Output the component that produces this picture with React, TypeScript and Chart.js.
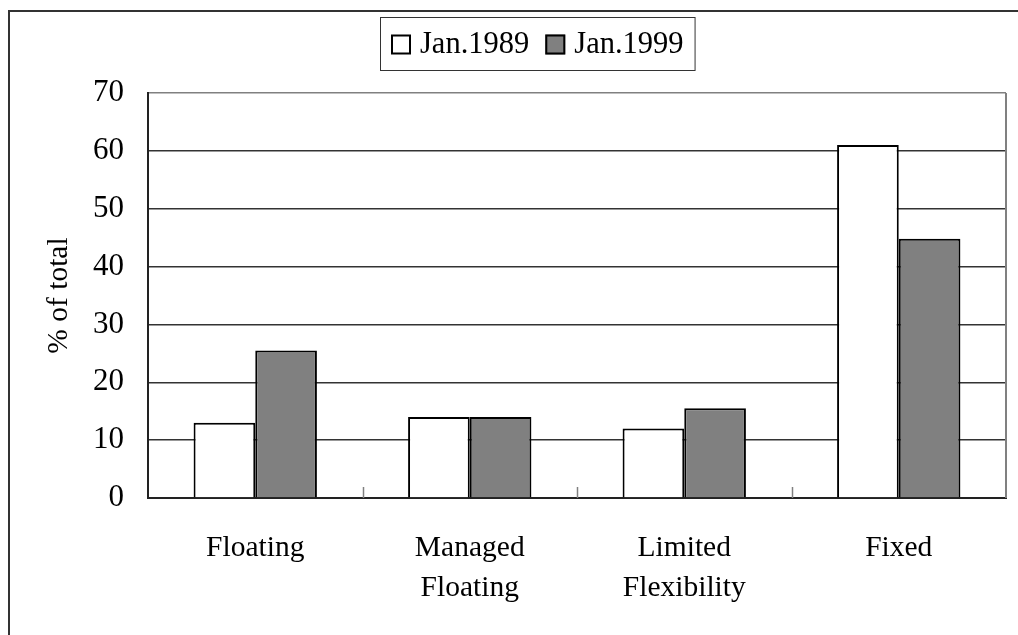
import React, { useEffect, useRef } from "react";
import { Chart, registerables } from "chart.js";

Chart.register(...registerables);

const categories: string[][] = [["Floating"], ["Managed", "Floating"], ["Limited", "Flexibility"], ["Fixed"]];
const seriesNames = ["Jan.1989", "Jan.1999"];
const jan1989 = [13, 14, 12, 61];
const jan1999 = [25.5, 14, 15.5, 44.8];
const seriesColors = ["#ffffff", "#808080"];
const yMin = 0;
const yMax = 70;
const yStep = 10;
const yTitle = "% of total";

const FONT = "'Liberation Serif', 'Times New Roman', serif";

const decorPlugin = {
  id: "decor",
  afterDraw(chart: any) {
    const ctx = chart.ctx as CanvasRenderingContext2D;
    const { right, top, bottom } = chart.chartArea;
    ctx.save();
    // right border of plot
    ctx.strokeStyle = "#808080";
    ctx.lineWidth = 2;
    ctx.beginPath();
    ctx.moveTo(right, top);
    ctx.lineTo(right, bottom);
    ctx.stroke();
    // category boundary ticks (inward)
    const xs = chart.scales.x;
    const n = chart.data.labels.length;
    const w = (xs.right - xs.left) / n;
    ctx.lineWidth = 1.5;
    ctx.strokeStyle = "#808080";
    for (let i = 1; i < n; i++) {
      const bx = Math.round(xs.left + w * i) + 0.5;
      ctx.beginPath();
      ctx.moveTo(bx, bottom);
      ctx.lineTo(bx, bottom - 11);
      ctx.stroke();
    }
    // outer frame
    ctx.strokeStyle = "#333";
    ctx.lineWidth = 2;
    ctx.strokeRect(9, 11, 1200, 1000);
    // legend
    ctx.font = `30.5px ${FONT}`;
    const items = chart.data.datasets.map((d: any) => ({ label: d.label, fill: d.backgroundColor }));
    const sq = 20, gapText = 9, gapItem = 16, padX = 11;
    const widths = items.map((it: any) => ctx.measureText(it.label).width);
    let total = padX * 2 + gapItem * (items.length - 1);
    items.forEach((_: any, i: number) => { total += sq + gapText + widths[i]; });
    const cx = 537;
    const boxTop = 17, boxH = 53;
    const x0 = Math.round(cx - total / 2);
    ctx.strokeStyle = "#333";
    ctx.lineWidth = 1;
    ctx.strokeRect(x0 + 0.5, boxTop + 0.5, total, boxH);
    let x = x0 + padX;
    const cy = boxTop + boxH / 2 + 1;
    ctx.textBaseline = "middle";
    ctx.textAlign = "left";
    items.forEach((it: any, i: number) => {
      ctx.fillStyle = it.fill;
      ctx.fillRect(x, cy - sq / 2, sq, sq);
      ctx.strokeStyle = "#000";
      ctx.lineWidth = 2;
      ctx.strokeRect(x + 1, cy - sq / 2 + 1, sq - 2, sq - 2);
      ctx.fillStyle = "#000";
      ctx.fillText(it.label, x + sq + gapText, cy);
      x += sq + gapText + widths[i] + gapItem;
    });
    ctx.restore();
  },
};

export default function App() {
  const ref = useRef<HTMLCanvasElement>(null);
  useEffect(() => {
    if (!ref.current) return;
    const chart = new Chart(ref.current, {
      type: "bar",
      data: {
        labels: categories,
        datasets: [
          { label: seriesNames[0], data: jan1989, backgroundColor: seriesColors[0], borderColor: "#000", borderWidth: 2 },
          { label: seriesNames[1], data: jan1999, backgroundColor: seriesColors[1], borderColor: "#000", borderWidth: 2 },
        ],
      },
      options: {
        responsive: false,
        animation: false,
        datasets: { bar: { barPercentage: 1, categoryPercentage: 0.575 } },
        layout: { padding: { top: 93, right: 12, left: 0, bottom: 0 } },
        plugins: { legend: { display: false }, tooltip: { enabled: false } },
        scales: {
          x: {
            grid: { display: false, drawTicks: false },
            border: { display: true, color: "#222", width: 2 },
            ticks: { font: { family: FONT, size: 29.5, lineHeight: 1.36 }, color: "#000", padding: 30, maxRotation: 0, autoSkip: false },
            afterFit: (s: any) => { s.height = 137; },
          },
          y: {
            min: yMin,
            max: yMax,
            ticks: { stepSize: yStep, font: { family: FONT, size: 31 }, color: "#000", padding: 24 },
            grid: {
              color: (c: any) => (c.tick && c.tick.value === yMax ? "#808080" : "#333"),
              lineWidth: 1.5,
              drawTicks: false,
            },
            border: { color: "#222", width: 2 },
            title: { display: true, text: yTitle, font: { family: FONT, size: 29.5 }, color: "#000", padding: { top: 42, bottom: 0 } },
            afterFit: (s: any) => { s.width = 148; },
          },
        },
      } as any,
      plugins: [decorPlugin],
    });
    return () => chart.destroy();
  }, []);
  return (
    <div style={{ position: "absolute", left: 0, top: 0, width: 1018, height: 635, background: "#fff" }}>
      <canvas ref={ref} width={1018} height={635} style={{ display: "block" }} />
    </div>
  );
}
